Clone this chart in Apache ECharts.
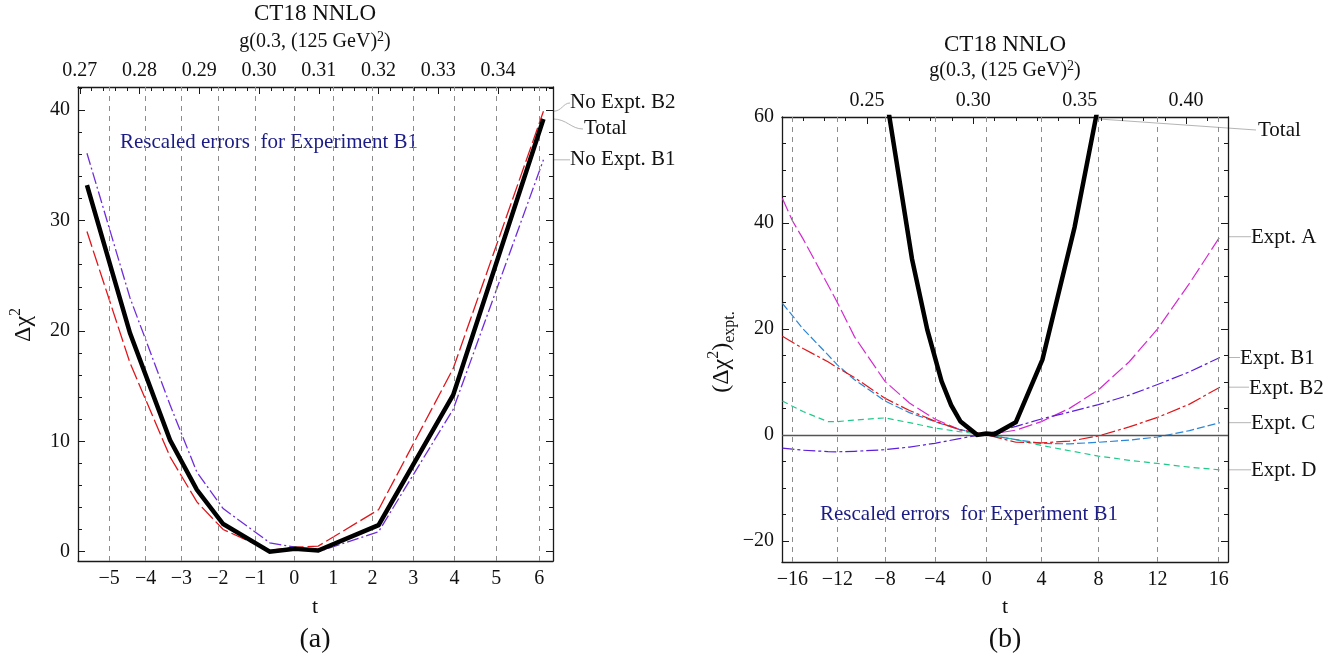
<!DOCTYPE html>
<html><head><meta charset="utf-8">
<script src="https://cdn.jsdelivr.net/npm/echarts@6/dist/echarts.min.js"></script>
<style>html,body{margin:0;padding:0;background:#fff}#c{width:1342px;height:659px}</style>
</head><body><div id="c"></div>
<script>
// ---------- Panel (a) data ----------
const gA      = [0.2712, 0.2784, 0.2851, 0.2896, 0.2940, 0.3018, 0.3060, 0.3099, 0.3200, 0.3325, 0.3476];
const totalA  = [33.2, 19.8, 10.1, 5.6, 2.5, 0.0, 0.25, 0.1, 2.4, 14.2, 39.2];
const noB2A   = [29.0, 17.1, 8.6, 4.5, 2.0, 0.1, 0.4, 0.5, 3.8, 16.6, 39.9];
const noB1A   = [36.1, 23.0, 13.3, 7.2, 3.9, 0.8, 0.4, 0.0, 1.8, 12.9, 35.5];
const tTicksA = [-5, -4, -3, -2, -1, 0, 1, 2, 3, 4, 5, 6];
const tTickGA = [0.2749, 0.2810, 0.2870, 0.2931, 0.2994, 0.3059, 0.3124, 0.3190, 0.3258, 0.3327, 0.3397, 0.3469];
const gLabelsA = [0.27, 0.28, 0.29, 0.30, 0.31, 0.32, 0.33, 0.34];
const yLabelsA = [0, 10, 20, 30, 40];

// ---------- Panel (b) data ----------
const gB     = [0.2103, 0.2150, 0.2200, 0.2317, 0.2361, 0.2442, 0.2585, 0.2700, 0.2819, 0.2935, 0.3063, 0.3201, 0.3320, 0.3452, 0.3588, 0.3733, 0.3866, 0.4016, 0.4159];
const exptA  = [44.6, 40.4, 37.0, 28.3, 25.0, 18.5, 10.1, 6.0, 3.0, 1.0, 0.0, 0.9, 2.5, 5.0, 8.5, 13.8, 20.0, 28.6, 37.4];
const exptB1 = [-2.5, -2.7, -2.9, -3.15, -3.2, -3.1, -2.8, -2.3, -1.6, -0.7, 0.2, 1.6, 3.0, 4.3, 5.7, 7.5, 9.5, 11.9, 14.6];
const exptB2 = [18.6, 17.5, 16.3, 13.8, 12.7, 10.8, 6.9, 4.6, 2.6, 1.0, 0.0, -1.4, -1.5, -1.2, -0.2, 1.5, 3.3, 5.8, 9.0];
const exptC  = [24.8, 22.5, 20.0, 15.1, 13.2, 10.4, 6.4, 4.2, 2.5, 1.0, 0.0, -0.9, -1.6, -1.7, -1.4, -1.0, -0.4, 0.8, 2.3];
const exptD  = [6.4, 5.4, 4.4, 2.5, 2.5, 2.8, 3.2, 2.3, 1.3, 0.6, 0.0, -0.9, -2.0, -3.0, -4.0, -4.8, -5.4, -6.1, -6.6];
const gBT    = [0.2590, 0.2712, 0.2784, 0.2851, 0.2896, 0.2940, 0.3018, 0.3060, 0.3099, 0.3200, 0.3325, 0.3476, 0.3620];
const totalB = [64.0, 33.2, 19.8, 10.1, 5.6, 2.5, 0.0, 0.25, 0.1, 2.4, 14.2, 39.2, 68.9];
const tTicksB = [-16, -12, -8, -4, 0, 4, 8, 12, 16];
const tTickGB = [0.2150, 0.2361, 0.2585, 0.2819, 0.3063, 0.3320, 0.3588, 0.3866, 0.4153];
const gLabelsB = [0.25, 0.30, 0.35, 0.40];
const yLabelsB = [-20, 0, 20, 40, 60];

// ---------- ranges ----------
const GA = [0.2697, 0.3492], YA = [-0.85, 42.1];
const GB = [0.2101, 0.4197], YB = [-24, 60];

function steps(a, b, s, dec) { const r = []; for (let v = a; v <= b + 1e-9; v += s) r.push(+v.toFixed(dec)); return r; }
const gMinorA = steps(0.27, 0.348, 0.002, 3);
const yMinorA = steps(0, 42, 2, 0);
const gMinorB = steps(0.22, 0.41, 0.01, 2);
const yMinorB = steps(-20, 60, 5, 0);

const F = 'Liberation Serif', AX = '#1a1a1a', TXT = '#111';
const minus = v => (v < 0 ? '\u2212' + Math.abs(v) : '' + v);
function tFmt(ticks, gs) { return v => { const i = gs.findIndex(g => Math.abs(g - v) < 1e-7); return i >= 0 ? minus(ticks[i]) : ''; }; }

function ax(grid, pos, range, o) {
  const a = {
    type: 'value', gridIndex: grid, position: pos, min: range[0], max: range[1],
    axisLine: { show: !!o.line, onZero: false, lineStyle: { color: AX, width: 1.3 } },
    axisTick: { show: true, inside: true, length: o.len, customValues: o.ticks, lineStyle: { color: AX, width: 1 } },
    axisLabel: { show: !!o.labels, fontFamily: F, fontSize: 20, color: TXT, margin: o.margin || 6 },
    splitLine: { show: false }
  };
  if (o.labels) { a.axisLabel.customValues = o.labels; a.axisLabel.formatter = o.fmt; }
  return a;
}

const xAxis = [
  ax(0, 'bottom', GA, { line: 1, len: 5, ticks: tTickGA, labels: tTickGA, fmt: tFmt(tTicksA, tTickGA), margin: 8 }),
  ax(0, 'top', GA, { line: 1, len: 7, ticks: gLabelsA, labels: gLabelsA, fmt: v => v.toFixed(2), margin: 6 }),
  ax(0, 'top', GA, { len: 4, ticks: gMinorA }),
  ax(1, 'bottom', GB, { line: 1, len: 5, ticks: tTickGB, labels: tTickGB, fmt: tFmt(tTicksB, tTickGB), margin: 8 }),
  ax(1, 'top', GB, { line: 1, len: 7, ticks: gLabelsB, labels: gLabelsB, fmt: v => v.toFixed(2), margin: 6 }),
  ax(1, 'top', GB, { len: 4, ticks: gMinorB })
];
const yAxis = [
  ax(0, 'left', YA, { line: 1, len: 7, ticks: yLabelsA, labels: yLabelsA, fmt: v => minus(v), margin: 8 }),
  ax(0, 'left', YA, { len: 4, ticks: yMinorA }),
  ax(0, 'right', YA, { line: 1, len: 7, ticks: yLabelsA }),
  ax(0, 'right', YA, { len: 4, ticks: yMinorA }),
  ax(1, 'left', YB, { line: 1, len: 7, ticks: yLabelsB, labels: yLabelsB, fmt: v => minus(v), margin: 8 }),
  ax(1, 'left', YB, { len: 4, ticks: yMinorB }),
  ax(1, 'right', YB, { line: 1, len: 7, ticks: yLabelsB }),
  ax(1, 'right', YB, { len: 4, ticks: yMinorB })
];

function line(xi, yi, gs, vals, color, width, type, z) {
  return { type: 'line', xAxisIndex: xi, yAxisIndex: yi, data: gs.map((g, i) => [g, vals[i]]),
    showSymbol: false, symbol: 'none', clip: true, silent: true, animation: false, z: z,
    lineStyle: { color: color, width: width, type: type, cap: 'butt', join: 'miter' } };
}
const gridLineStyle = { type: [5, 5], color: '#8c8c8c', width: 1 };
function guides(xi, yi, gs, extra) {
  return { type: 'line', xAxisIndex: xi, yAxisIndex: yi, data: [], silent: true, animation: false, z: 1,
    markLine: { silent: true, precision: 6, symbol: ['none', 'none'], label: { show: false }, animation: false,
      lineStyle: gridLineStyle, data: gs.map(g => ({ xAxis: g })).concat(extra || []) } };
}

const series = [
  guides(1, 0, tTickGA),
  line(1, 0, gA, noB2A, '#e0161b', 1.3, [16, 4], 3),
  line(1, 0, gA, noB1A, '#6f2ddb', 1.3, [12, 3, 2, 3], 3),
  line(1, 0, gA, totalA, '#000', 4.5, 'solid', 5),

  guides(4, 4, tTickGB, [{ yAxis: 0, lineStyle: { type: 'solid', color: '#555', width: 1.4 } }]),
  line(4, 4, gB, exptA, '#d42bd0', 1.2, [14, 4], 3),
  line(4, 4, gB, exptD, '#20c98a', 1.2, [6, 4], 3),
  line(4, 4, gB, exptC, '#2a86d9', 1.2, [8, 3], 3),
  line(4, 4, gB, exptB2, '#e0161b', 1.2, [14, 3, 3, 3], 3),
  line(4, 4, gB, exptB1, '#5b1fdc', 1.2, [12, 3, 3, 3], 3),
  line(4, 4, gBT, totalB, '#000', 4.5, 'solid', 5)
];

const chart = echarts.init(document.getElementById('c'), null, { renderer: 'canvas', width: 1342, height: 659 });
chart.setOption({
  backgroundColor: '#fff',
  animation: false,
  grid: [
    { left: 78, top: 87, width: 475, height: 474 },
    { left: 782, top: 117, width: 446, height: 445 }
  ],
  xAxis: xAxis, yAxis: yAxis, series: series
});

// ---------- annotations ----------
const P = (xi, yi, g, y) => chart.convertToPixel({ xAxisIndex: xi, yAxisIndex: yi }, [g, y]);
const T = (text, x, y, size, o) => Object.assign({ type: 'text', x: x, y: y, silent: true,
  style: Object.assign({ text: text, fontFamily: F, fontSize: size, fill: TXT, align: 'center', verticalAlign: 'middle' }, (o && o.style) || {}) },
  o && o.rotation ? { rotation: o.rotation } : {});
const LEAD = { stroke: '#b5b5b5', lineWidth: 1, fill: null };
const rich = {
  n:  { fontFamily: F, fontSize: 20, fill: TXT, lineHeight: 24 },
  sp: { fontFamily: F, fontSize: 14, fill: TXT, lineHeight: 14, verticalAlign: 'top' },
  m:  { fontFamily: F, fontSize: 24, fill: TXT, lineHeight: 32 },
  p:  { fontFamily: F, fontSize: 16, fill: TXT, lineHeight: 16, verticalAlign: 'top' },
  s:  { fontFamily: F, fontSize: 16, fill: TXT, lineHeight: 16, verticalAlign: 'bottom' }
};
const g = [];

// titles
const sub = '{n|g(0.3, (125 GeV)}{sp|2}{n|)}';
g.push(T('CT18 NNLO', 315, 14, 23), T(sub, 315, 42, 20, { style: { rich: rich } }));
g.push(T('CT18 NNLO', 1005, 45, 23), T(sub, 1005, 71, 20, { style: { rich: rich } }));
g.push(T('t', 315, 607, 22), T('t', 1005, 607, 22));
g.push(T('(a)', 315, 640, 28), T('(b)', 1005, 640, 28));
g.push(T('{m|\u0394\u03c7}{p|2}', 24, 325, 24, { rotation: Math.PI / 2, style: { rich: rich } }));
g.push(T('{m|(\u0394\u03c7}{p|2}{m|)}{s|expt.}', 722, 352, 24, { rotation: Math.PI / 2, style: { rich: rich } }));
const NAVY = '#1c1c86';
g.push(T('Rescaled errors  for Experiment B1', 120, 142, 21, { style: { align: 'left', fill: NAVY } }));
g.push(T('Rescaled errors  for Experiment B1', 820, 514, 21, { style: { align: 'left', fill: NAVY } }));

// panel (a) end labels
const xRA = P(1, 0, GA[1], 0)[0];
const yB2 = P(1, 0, GA[1], noB2A[noB2A.length - 1])[1];
const yTot = P(1, 0, GA[1], totalA[totalA.length - 1])[1];
const yB1 = P(1, 0, GA[1], noB1A[noB1A.length - 1])[1];
g.push({ type: 'bezierCurve', silent: true, shape: { x1: xRA, y1: yB2, cpx1: xRA + 9, cpy1: yB2, cpx2: xRA + 10, cpy2: 103, x2: xRA + 17, y2: 103 }, style: LEAD });
g.push(T('No Expt. B2', xRA + 17, 102, 21, { style: { align: 'left' } }));
g.push({ type: 'bezierCurve', silent: true, shape: { x1: xRA, y1: yTot, cpx1: xRA + 14, cpy1: yTot, cpx2: xRA + 18, cpy2: 129, x2: xRA + 30, y2: 129 }, style: LEAD });
g.push(T('Total', xRA + 31, 128, 21, { style: { align: 'left' } }));
g.push({ type: 'line', silent: true, shape: { x1: xRA, y1: yB1, x2: xRA + 17, y2: yB1 }, style: LEAD });
g.push(T('No Expt. B1', xRA + 17, yB1, 21, { style: { align: 'left' } }));

// panel (b) end labels
const xRB = P(4, 4, GB[1], 0)[0];
let cross = null;
for (let i = totalB.length - 2; i >= 0; i--) {
  if (totalB[i] <= YB[1] && totalB[i + 1] > YB[1]) {
    const f = (YB[1] - totalB[i]) / (totalB[i + 1] - totalB[i]);
    cross = P(4, 4, gBT[i] + f * (gBT[i + 1] - gBT[i]), YB[1]); break;
  }
}
g.push({ type: 'line', silent: true, shape: { x1: cross[0] + 3, y1: cross[1] + 2, x2: 1256, y2: 130 }, style: LEAD });
g.push(T('Total', 1258, 130, 21, { style: { align: 'left' } }));
const labsB = [
  ['Expt. A', exptA, 1251], ['Expt. B1', exptB1, 1240], ['Expt. B2', exptB2, 1249],
  ['Expt. C', exptC, 1251], ['Expt. D', exptD, 1251]
];
labsB.forEach(([name, vals, tx]) => {
  const y = P(4, 4, GB[1], vals[vals.length - 1])[1];
  g.push({ type: 'line', silent: true, shape: { x1: xRB, y1: y, x2: tx, y2: y }, style: LEAD });
  g.push(T(name, tx, y + 1, 21, { style: { align: 'left' } }));
});

chart.setOption({ graphic: g });
</script></body></html>
